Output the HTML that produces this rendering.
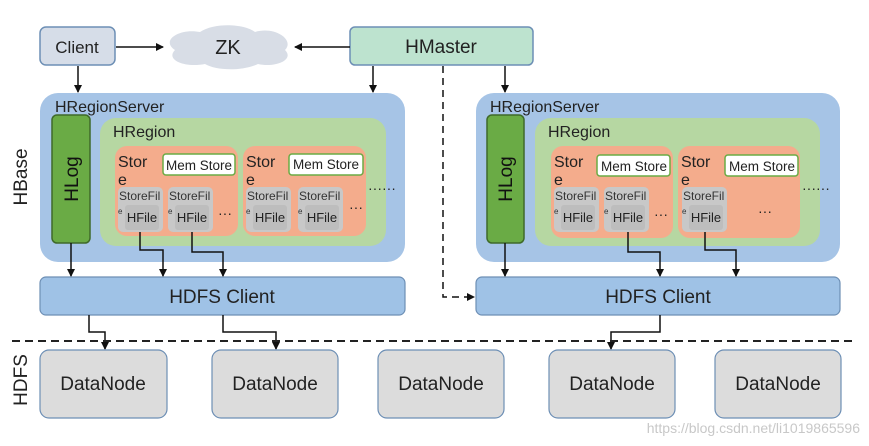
<!DOCTYPE html>
<html><head><meta charset="utf-8"><style>
html,body{margin:0;padding:0;background:#fff;}
svg{display:block;font-family:"Liberation Sans",sans-serif;}
</style></head><body>
<svg width="869" height="446" viewBox="0 0 869 446" xmlns="http://www.w3.org/2000/svg">
<defs>
<marker id="a" markerWidth="8" markerHeight="8" refX="7" refY="4" orient="auto" markerUnits="userSpaceOnUse"><path d="M0,0 L8,4 L0,8 z" fill="#111"/></marker>
</defs>
<!-- top -->
<rect x="40" y="27" width="75" height="38" rx="6" fill="#d6dde8" stroke="#6d8fb5" stroke-width="1.5"/>
<text x="77" y="53" font-size="17" text-anchor="middle" fill="#222">Client</text>
<path d="M175,50 C160,40 180,28 200,32 C215,22 245,24 255,32 C275,26 295,40 285,50 C295,60 275,68 258,64 C240,72 215,70 205,64 C185,68 165,60 175,50 z" fill="#d8dde6"/>
<text x="228" y="54" font-size="20" text-anchor="middle" fill="#222">ZK</text>
<rect x="350" y="27" width="183" height="38" rx="5" fill="#bde3cf" stroke="#6d8fb5" stroke-width="1.5"/>
<text x="441" y="53" font-size="19" text-anchor="middle" fill="#222">HMaster</text>
<g stroke="#111" stroke-width="1.5" fill="none">
<line x1="116" y1="47" x2="163" y2="47" marker-end="url(#a)"/>
<line x1="350" y1="47" x2="295" y2="47" marker-end="url(#a)"/>
<line x1="78" y1="66" x2="78" y2="92" marker-end="url(#a)"/>
<line x1="373" y1="66" x2="373" y2="92" marker-end="url(#a)"/>
<line x1="505" y1="66" x2="505" y2="92" marker-end="url(#a)"/>
<path d="M443,66 L443,297 L474,297" stroke-dasharray="7,5" marker-end="url(#a)"/>
</g>
<text transform="translate(27,177) rotate(-90)" font-size="19" text-anchor="middle" fill="#222">HBase</text>
<text transform="translate(27,380) rotate(-90)" font-size="19" text-anchor="middle" fill="#222">HDFS</text>

<!-- left server -->
<rect x="40" y="93" width="365" height="169" rx="18" fill="#a6c4e6"/>
<text x="55" y="112" font-size="16" fill="#222">HRegionServer</text>
<rect x="52" y="115" width="38" height="128" rx="5" fill="#6aab45" stroke="#3f6a2a" stroke-width="1.5"/>
<text transform="translate(78,179) rotate(-90)" font-size="19" text-anchor="middle" fill="#111">HLog</text>
<rect x="100" y="118" width="286" height="128" rx="16" fill="#b6d7a2"/>
<text x="113" y="137" font-size="16" fill="#222">HRegion</text>
<!-- store 1 -->
<rect x="115" y="146" width="123" height="90" rx="12" fill="#f4ac8c"/>
<text x="118" y="167" font-size="16" fill="#222">Stor</text><text x="118" y="185" font-size="16" fill="#222">e</text>
<rect x="163" y="154" width="72" height="21" rx="3" fill="#fff" stroke="#6aab45" stroke-width="1.5"/>
<text x="199" y="170" font-size="13.5" text-anchor="middle" fill="#222">Mem Store</text>
<rect x="118" y="187" width="45" height="45" rx="5" fill="#c8c8c8"/><text x="119" y="200" font-size="12" fill="#333">StoreFil</text><text x="118" y="214" font-size="8" fill="#333">e</text>
<rect x="125" y="205" width="34" height="25" rx="3" fill="#bdbdbd"/><text x="142" y="222" font-size="13" text-anchor="middle" fill="#222">HFile</text>
<rect x="168" y="187" width="45" height="45" rx="5" fill="#c8c8c8"/><text x="169" y="200" font-size="12" fill="#333">StoreFil</text><text x="168" y="214" font-size="8" fill="#333">e</text>
<rect x="175" y="205" width="34" height="25" rx="3" fill="#bdbdbd"/><text x="192" y="222" font-size="13" text-anchor="middle" fill="#222">HFile</text>
<text x="218" y="218" font-size="14" fill="#222">···</text>
<!-- store 2 -->
<rect x="243" y="146" width="123" height="90" rx="12" fill="#f4ac8c"/>
<text x="246" y="167" font-size="16" fill="#222">Stor</text><text x="246" y="185" font-size="16" fill="#222">e</text>
<rect x="289" y="154" width="74" height="21" rx="3" fill="#fff" stroke="#6aab45" stroke-width="1.5"/>
<text x="326" y="169" font-size="13.5" text-anchor="middle" fill="#222">Mem Store</text>
<rect x="246" y="187" width="45" height="45" rx="5" fill="#c8c8c8"/><text x="247" y="200" font-size="12" fill="#333">StoreFil</text><text x="246" y="214" font-size="8" fill="#333">e</text>
<rect x="253" y="205" width="34" height="25" rx="3" fill="#bdbdbd"/><text x="270" y="222" font-size="13" text-anchor="middle" fill="#222">HFile</text>
<rect x="298" y="187" width="45" height="45" rx="5" fill="#c8c8c8"/><text x="299" y="200" font-size="12" fill="#333">StoreFil</text><text x="298" y="214" font-size="8" fill="#333">e</text>
<rect x="305" y="205" width="34" height="25" rx="3" fill="#bdbdbd"/><text x="322" y="222" font-size="13" text-anchor="middle" fill="#222">HFile</text>
<text x="349" y="212" font-size="14" fill="#222">···</text>
<text x="368" y="193" font-size="14" fill="#222">······</text>

<!-- right server -->
<rect x="476" y="93" width="364" height="169" rx="18" fill="#a6c4e6"/>
<text x="490" y="112" font-size="16" fill="#222">HRegionServer</text>
<rect x="487" y="115" width="37" height="128" rx="5" fill="#6aab45" stroke="#3f6a2a" stroke-width="1.5"/>
<text transform="translate(512,179) rotate(-90)" font-size="19" text-anchor="middle" fill="#111">HLog</text>
<rect x="535" y="118" width="285" height="128" rx="16" fill="#b6d7a2"/>
<text x="548" y="137" font-size="16" fill="#222">HRegion</text>
<rect x="551" y="146" width="122" height="92" rx="12" fill="#f4ac8c"/>
<text x="554" y="167" font-size="16" fill="#222">Stor</text><text x="554" y="185" font-size="16" fill="#222">e</text>
<rect x="597" y="155" width="73" height="21" rx="3" fill="#fff" stroke="#6aab45" stroke-width="1.5"/>
<text x="634" y="171" font-size="13.5" text-anchor="middle" fill="#222">Mem Store</text>
<rect x="554" y="187" width="45" height="45" rx="5" fill="#c8c8c8"/><text x="555" y="200" font-size="12" fill="#333">StoreFil</text><text x="554" y="214" font-size="8" fill="#333">e</text>
<rect x="561" y="205" width="34" height="25" rx="3" fill="#bdbdbd"/><text x="578" y="222" font-size="13" text-anchor="middle" fill="#222">HFile</text>
<rect x="604" y="187" width="45" height="45" rx="5" fill="#c8c8c8"/><text x="605" y="200" font-size="12" fill="#333">StoreFil</text><text x="604" y="214" font-size="8" fill="#333">e</text>
<rect x="611" y="205" width="34" height="25" rx="3" fill="#bdbdbd"/><text x="628" y="222" font-size="13" text-anchor="middle" fill="#222">HFile</text>
<text x="654" y="219" font-size="14" fill="#222">···</text>
<rect x="678" y="146" width="122" height="92" rx="12" fill="#f4ac8c"/>
<text x="681" y="167" font-size="16" fill="#222">Stor</text><text x="681" y="185" font-size="16" fill="#222">e</text>
<rect x="725" y="155" width="73" height="21" rx="3" fill="#fff" stroke="#6aab45" stroke-width="1.5"/>
<text x="762" y="171" font-size="13.5" text-anchor="middle" fill="#222">Mem Store</text>
<rect x="682" y="187" width="45" height="45" rx="5" fill="#c8c8c8"/><text x="683" y="200" font-size="12" fill="#333">StoreFil</text><text x="682" y="214" font-size="8" fill="#333">e</text>
<rect x="689" y="205" width="34" height="25" rx="3" fill="#bdbdbd"/><text x="706" y="222" font-size="13" text-anchor="middle" fill="#222">HFile</text>
<text x="758" y="216" font-size="14" fill="#222">···</text>
<text x="802" y="193" font-size="14" fill="#222">······</text>

<!-- HDFS clients -->
<rect x="40" y="277" width="365" height="38" rx="6" fill="#9fc2e6" stroke="#6d8fb5" stroke-width="1.2"/>
<text x="222" y="303" font-size="19" text-anchor="middle" fill="#222">HDFS Client</text>
<rect x="476" y="277" width="364" height="38" rx="6" fill="#9fc2e6" stroke="#6d8fb5" stroke-width="1.2"/>
<text x="658" y="303" font-size="19" text-anchor="middle" fill="#222">HDFS Client</text>

<g stroke="#111" stroke-width="1.5" fill="none">
<line x1="71" y1="243" x2="71" y2="276" marker-end="url(#a)"/>
<path d="M140,232 L140,250 L163,250 L163,276" marker-end="url(#a)"/>
<path d="M192,232 L192,252 L223,252 L223,276" marker-end="url(#a)"/>
<line x1="505" y1="243" x2="505" y2="276" marker-end="url(#a)"/>
<path d="M628,232 L628,252 L660,252 L660,276" marker-end="url(#a)"/>
<path d="M705,232 L705,250 L736,250 L736,276" marker-end="url(#a)"/>
<path d="M89,315 L89,332 L105,332 L105,349" marker-end="url(#a)"/>
<path d="M223,315 L223,332 L276,332 L276,349" marker-end="url(#a)"/>
<path d="M660,315 L660,332 L611,332 L611,349" marker-end="url(#a)"/>
</g>
<line x1="12" y1="341" x2="852" y2="341" stroke="#222" stroke-width="2" stroke-dasharray="8,5"/>

<!-- datanodes -->
<g fill="#dcdcdc" stroke="#6d8fb5" stroke-width="1.2">
<rect x="40" y="350" width="127" height="68" rx="9"/>
<rect x="212" y="350" width="126" height="68" rx="9"/>
<rect x="378" y="350" width="126" height="68" rx="9"/>
<rect x="549" y="350" width="126" height="68" rx="9"/>
<rect x="715" y="350" width="126" height="68" rx="9"/>
</g>
<g font-size="19" text-anchor="middle" fill="#222">
<text x="103" y="390">DataNode</text>
<text x="275" y="390">DataNode</text>
<text x="441" y="390">DataNode</text>
<text x="612" y="390">DataNode</text>
<text x="778" y="390">DataNode</text>
</g>
<text x="860" y="433" font-size="14" text-anchor="end" fill="#c8c8c8">https://blog.csdn.net/li1019865596</text>
</svg>
</body></html>
